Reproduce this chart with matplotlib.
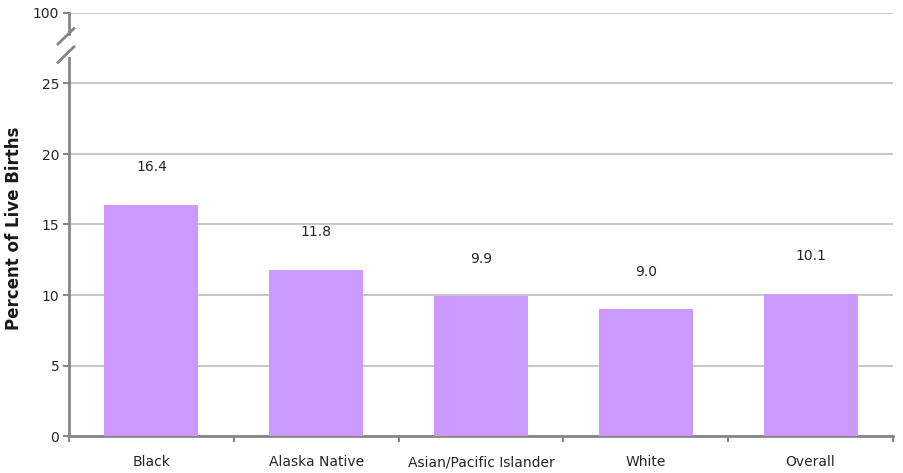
import matplotlib
matplotlib.use('Agg')
import matplotlib.pyplot as plt
from matplotlib.ticker import FixedLocator

categories = ['Black', 'Alaska Native', 'Asian/Pacific Islander', 'White', 'Overall']
values = [16.4, 11.8, 9.9, 9.0, 10.1]
ytick_pos = [0, 5, 10, 15, 20, 25, 30]
ytick_labels = ['0', '5', '10', '15', '20', '25', '100']

bar_clr = '#CC99FF'
grid_clr = '#BEBEBE'
axis_clr = '#868686'

plt.rcParams['font.family'] = ['DejaVu Sans']
fig = plt.figure(figsize=(9.04, 4.73), dpi=100)
ax = fig.add_axes([69 / 904, 37 / 473, 824 / 904, 423 / 473])

x = range(len(categories))
ax.bar(x, values, width=0.57, color=bar_clr, zorder=3)
for xi, v in zip(x, values):
    ax.annotate('%.1f' % v, (xi, v), xytext=(0, 27), textcoords='offset points',
                ha='center', va='center', fontsize=10, color='#262626')

ax.set_xlim(-0.5, len(categories) - 0.5)
ax.set_ylim(0, 30)
ax.set_yticks(ytick_pos)
ax.set_yticklabels(ytick_labels, fontsize=10, color='#262626')
ax.yaxis.grid(True, color=grid_clr, linewidth=1.2, zorder=0)
ax.set_axisbelow(True)

ax.set_xticks(list(x))
ax.set_xticklabels(categories, fontsize=10, color='#262626')
ax.tick_params(axis='x', which='major', length=0, pad=14)
ax.xaxis.set_minor_locator(FixedLocator([i - 0.5 for i in range(len(categories) + 1)]))
ax.tick_params(axis='x', which='minor', length=4, width=1.5, color=axis_clr, direction='out')
ax.tick_params(axis='y', length=4, width=1.5, color=axis_clr, direction='out', pad=3)

for s in ['top', 'right']:
    ax.spines[s].set_visible(False)
ax.spines['bottom'].set_color(axis_clr)
ax.spines['bottom'].set_linewidth(2)
ax.spines['left'].set_color(axis_clr)
ax.spines['left'].set_linewidth(2)
ax.spines['left'].set_bounds(0, 26.8)

# top piece of the broken y axis and the break marks
ax.plot([-0.5, -0.5], [28.5, 30], color=axis_clr, lw=2, clip_on=False, zorder=4)
ax.plot([-0.567, -0.47], [27.8, 28.9], color=axis_clr, lw=2, clip_on=False, zorder=4)
ax.plot([-0.567, -0.47], [26.5, 27.6], color=axis_clr, lw=2, clip_on=False, zorder=4)

ax.set_ylabel('Percent of Live Births', fontsize=12, fontweight='bold', color='#1a1a1a')
ax.yaxis.set_label_coords(-0.056, 0.49)

plt.savefig('out.png', dpi=100)
